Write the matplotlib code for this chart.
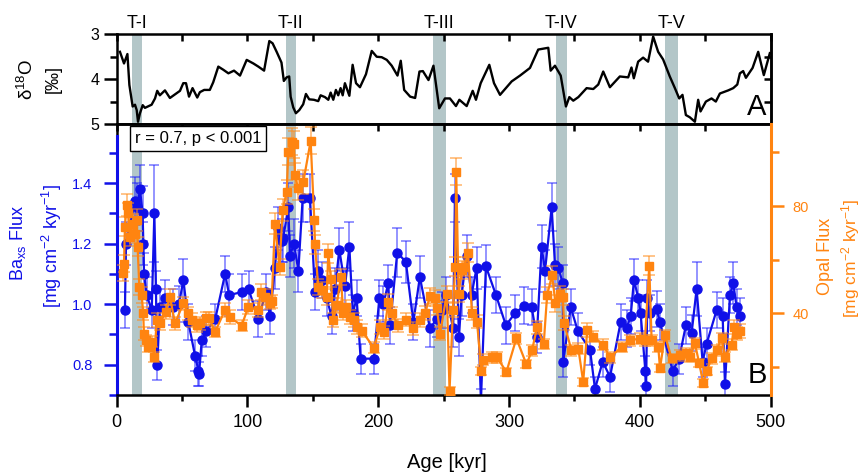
import matplotlib
matplotlib.use("Agg")
import matplotlib.pyplot as plt
from matplotlib.ticker import MultipleLocator, FixedLocator, NullFormatter

plt.rcParams["font.family"] = ["Liberation Sans", "DejaVu Sans"]
plt.rcParams["mathtext.fontset"] = "custom"
plt.rcParams["mathtext.rm"] = "Liberation Sans"
plt.rcParams["mathtext.it"] = "Liberation Sans:italic"

BLUE = "#1010e8"
ORANGE = "#ff8410"
BAND = "#b3c6c8"

# terminations
band_start = [12, 129.5, 242, 336, 419]
band_end = [19, 137, 251.5, 344, 429]
band_labels = ["T-I", "T-II", "T-III", "T-IV", "T-V"]

# benthic d18O stack
d18o_age = [2.5, 5.6, 8.2, 9.7, 12.2, 14.0, 15.3, 16.3, 17.8, 19.9,
            21.6, 26.7, 29.3, 31.0, 33.0, 36.9, 40.7, 44.6, 48.4, 50.9,
            53.0, 55.3, 58.0, 61.6, 63.6, 66.9, 71.2, 73.8, 77.7, 81.5,
            85.4, 89.7, 94.3, 99.4, 104.5, 108.3, 112.7, 116.7, 119.2, 122.3,
            126.0, 127.8, 129.9, 131.9, 133.0, 135.0, 137.0, 139.6, 142.6, 144.7,
            147.2, 150.8, 154.1, 155.9, 159.2, 161.8, 163.6, 165.6, 167.6, 169.4,
            171.2, 172.8, 174.5, 177.9, 180.4, 183.0, 186.0, 190.6, 195.0, 198.8,
            202.6, 206.5, 210.3, 214.7, 217.2, 219.8, 224.4, 228.2, 231.5, 234.1,
            238.4, 242.2, 246.6, 251.0, 254.8, 259.4, 262.0, 267.6, 272.2, 274.7,
            278.3, 284.9, 288.5, 293.1, 302.0, 308.4, 316.0, 322.3, 326.1, 330.0,
            331.8, 335.1, 339.5, 343.5, 346.1, 349.1, 353.0, 359.3, 364.4, 368.2,
            372.0, 377.1, 384.7, 391.1, 393.6, 395.4, 398.7, 402.5, 406.3, 407.6,
            410.2, 414.0, 417.8, 422.9, 426.8, 430.1, 432.6, 435.2, 438.2, 442.1,
            444.6, 446.4, 450.5, 454.8, 458.1, 461.2, 467.6, 471.4, 474.5, 476.5,
            479.0, 481.1, 486.2, 490.5, 494.8, 499.4]
d18o = [3.39, 3.65, 3.44, 4.13, 4.61, 4.57, 4.69, 4.95, 4.76, 4.58,
        4.64, 4.57, 4.43, 4.26, 4.36, 4.25, 4.42, 4.34, 4.26, 4.09,
        4.09, 4.39, 4.20, 4.41, 4.29, 4.24, 4.24, 4.07, 3.72, 3.79,
        3.87, 3.81, 3.92, 3.57, 3.65, 3.72, 3.81, 3.15, 3.20, 3.39,
        3.63, 4.04, 3.96, 3.94, 4.39, 4.63, 4.76, 4.69, 4.56, 4.33,
        4.45, 4.46, 4.49, 4.36, 4.40, 4.46, 4.30, 4.46, 4.24, 4.36,
        4.20, 4.36, 4.09, 4.37, 3.68, 4.09, 4.18, 3.89, 3.37, 3.50,
        3.51, 3.57, 3.70, 3.92, 3.59, 4.24, 4.39, 4.42, 3.83, 3.82,
        4.02, 3.70, 4.65, 4.43, 4.43, 4.60, 4.46, 4.60, 4.26, 4.46,
        4.09, 3.68, 4.09, 4.35, 4.05, 3.92, 3.75, 3.34, 3.32, 3.30,
        3.81, 3.70, 3.92, 4.61, 4.40, 4.48, 4.40, 4.20, 4.22, 4.12,
        3.83, 4.18, 3.94, 3.96, 3.74, 3.98, 3.61, 3.52, 3.61, 3.42,
        3.05, 3.39, 3.56, 3.94, 4.20, 4.43, 4.35, 4.80, 4.85, 4.95,
        4.46, 4.72, 4.50, 4.43, 4.50, 4.32, 4.25, 4.20, 4.12, 3.87,
        3.82, 3.97, 3.75, 3.39, 3.91, 3.42]

# Ba_xs flux
ba_age = [6.3, 7.1, 14.0, 15.8, 17.8, 19.8, 20.4, 20.9, 22.9, 26.8,
          28.8, 30.0, 31.0, 33.0, 36.9, 43.3, 47.6, 51.0, 54.8, 59.9,
          62.5, 63.0, 65.0, 68.4, 75.3, 82.9, 86.0, 95.7, 100.8, 108.4,
          114.0, 117.2, 121.0, 123.6, 126.1, 127.4, 131.2, 132.5, 135.6, 138.9,
          142.2, 147.8, 151.6, 154.1, 156.7, 160.5, 164.3, 166.9, 170.2, 174.6,
          177.9, 180.5, 183.5, 186.5, 196.7, 200.8, 203.9, 207.7, 209.0, 214.5,
          221.1, 226.8, 231.8, 239.5, 244.6, 248.4, 251.7, 257.3, 258.6, 261.7,
          263.7, 267.5, 271.3, 275.2, 278.5, 282.3, 290.0, 297.6, 304.5, 311.7,
          317.3, 321.2, 324.9, 327.5, 332.6, 335.1, 337.7, 341.0, 341.5, 347.1,
          352.7, 361.9, 365.7, 371.6, 377.2, 385.3, 389.9, 393.0, 395.5, 398.8,
          400.6, 404.2, 404.8, 405.7, 407.7, 412.8, 415.4, 425.1, 430.0, 435.2,
          439.6, 443.4, 448.0, 451.1, 458.7, 463.3, 465.1, 468.9, 471.4, 474.0,
          476.5]
ba_flux = [0.98, 1.20, 1.34, 1.32, 1.38, 1.30, 1.20, 1.10, 1.03, 0.98,
           1.30, 1.05, 0.80, 0.99, 1.02, 0.99, 1.00, 1.08, 0.94, 0.83,
           0.78, 0.77, 0.88, 0.91, 0.95, 1.10, 1.03, 1.04, 1.05, 0.95,
           1.04, 0.96, 1.12, 1.25, 1.21, 1.22, 1.32, 1.16, 1.20, 1.11,
           1.35, 1.35, 1.04, 1.11, 1.08, 1.02, 0.96, 1.05, 1.18, 1.06,
           1.19, 0.97, 1.02, 0.82, 0.82, 1.02, 1.00, 1.07, 0.93, 1.17,
           1.14, 0.94, 1.09, 0.92, 0.95, 0.98, 1.03, 0.92, 1.35, 0.89,
           1.03, 1.16, 1.03, 1.12, 0.68, 1.125, 1.03, 0.93, 0.97, 0.995,
           0.99, 0.89, 1.19, 1.11, 1.32, 1.13, 1.12, 1.07, 0.81, 0.99,
           0.91, 0.85, 0.72, 0.81, 0.76, 0.94, 0.92, 0.96, 1.08, 1.02,
           0.97, 0.78, 0.73, 1.02, 0.97, 0.985, 0.94, 0.78, 0.82, 0.93,
           0.905, 1.05, 0.81, 0.87, 0.98, 0.96, 0.735, 1.03, 1.07, 0.99,
           0.96]
ba_err = [0.06, 0.07, 0.08, 0.08, 0.08, 0.09, 0.07, 0.07, 0.06, 0.06,
          0.16, 0.06, 0.05, 0.06, 0.06, 0.06, 0.06, 0.07, 0.06, 0.05,
          0.05, 0.04, 0.05, 0.05, 0.05, 0.06, 0.07, 0.06, 0.06, 0.06,
          0.06, 0.06, 0.07, 0.07, 0.07, 0.08, 0.08, 0.07, 0.08, 0.07,
          0.08, 0.08, 0.06, 0.07, 0.06, 0.06, 0.06, 0.07, 0.07, 0.06,
          0.08, 0.06, 0.06, 0.05, 0.05, 0.06, 0.06, 0.06, 0.06, 0.08,
          0.07, 0.06, 0.07, 0.06, 0.06, 0.06, 0.06, 0.06, 0.08, 0.06,
          0.07, 0.07, 0.06, 0.07, 0.04, 0.07, 0.06, 0.06, 0.06, 0.06,
          0.06, 0.05, 0.07, 0.07, 0.08, 0.07, 0.07, 0.06, 0.05, 0.06,
          0.06, 0.05, 0.04, 0.05, 0.05, 0.06, 0.06, 0.06, 0.07, 0.06,
          0.06, 0.05, 0.04, 0.06, 0.06, 0.06, 0.06, 0.05, 0.05, 0.06,
          0.06, 0.09, 0.05, 0.05, 0.06, 0.06, 0.04, 0.06, 0.07, 0.06,
          0.06]

# opal flux
op_age = [5.1, 5.6, 6.3, 7.6, 8.9, 10.2, 12.2, 14.0, 15.3, 16.0,
          17.3, 19.1, 20.3, 20.8, 22.4, 24.2, 26.7, 28.8, 30.6, 33.1,
          37.4, 40.7, 44.6, 50.9, 54.8, 57.3, 61.2, 63.7, 68.3, 70.8,
          75.2, 82.8, 86.6, 95.5, 100.6, 108.3, 110.0, 113.4, 117.2, 118.5,
          121.0, 124.5, 126.9, 130.0, 131.2, 133.8, 135.6, 136.3, 138.6, 142.7,
          148.3, 151.1, 151.6, 154.1, 156.7, 160.5, 161.8, 163.8, 165.6, 168.2,
          171.4, 173.2, 175.7, 178.3, 181.3, 183.4, 187.2, 196.7, 201.3, 204.4,
          207.7, 210.2, 215.4, 221.2, 226.3, 231.9, 235.8, 239.6, 243.5, 244.8,
          247.3, 252.4, 254.5, 257.1, 258.8, 259.6, 261.4, 264.0, 265.8, 268.6,
          271.7, 275.5, 278.8, 280.1, 287.0, 290.8, 298.0, 305.6, 313.3, 317.6,
          321.4, 326.5, 329.1, 332.9, 335.5, 339.3, 341.1, 342.0, 347.7, 353.0,
          356.7, 359.8, 364.4, 372.0, 377.2, 386.1, 392.4, 400.1, 403.9, 407.2,
          409.0, 414.1, 415.4, 419.2, 424.3, 430.7, 435.2, 438.3, 442.1, 445.4,
          448.5, 451.1, 454.9, 458.7, 462.5, 465.1, 470.2, 471.9, 474.0, 476.5]
op_flux = [54.9, 58.6, 72.3, 80.4, 77.3, 68.6, 73.5, 69.6, 74.8, 64.8,
           49.9, 46.8, 40.0, 32.5, 30.0, 27.5, 29.4, 23.8, 37.5, 36.3,
           40.6, 46.2, 36.3, 43.7, 40.0, 37.5, 35.6, 36.3, 38.2, 38.2,
           33.1, 41.2, 38.7, 35.4, 42.4, 41.2, 48.0, 46.2, 44.0, 44.5,
           73.5, 57.4, 78.5, 85.3, 100.2, 104.0, 103.1, 91.6, 86.6, 89.0,
           104.3, 74.8, 65.8, 49.9, 48.6, 46.2, 62.4, 52.7, 37.5, 43.1,
           53.6, 40.0, 42.4, 38.7, 37.5, 35.0, 33.6, 27.2, 34.9, 32.9,
           44.3, 40.0, 35.6, 37.7, 34.4, 37.5, 40.2, 46.4, 45.6, 41.9,
           32.5, 47.4, 11.2, 41.2, 57.4, 92.8, 47.4, 56.2, 57.4, 62.6,
           40.0, 36.9, 18.6, 22.8, 23.6, 23.6, 18.2, 30.7, 21.0, 26.3,
           34.8, 28.6, 46.8, 54.3, 43.7, 47.4, 46.2, 36.5, 26.3, 26.8,
           14.5, 33.8, 31.3, 28.4, 23.6, 27.5, 30.0, 30.6, 30.0, 57.8,
           30.0, 27.5, 19.5, 31.9, 23.2, 24.4, 25.1, 23.8, 28.8, 21.4,
           13.9, 18.5, 23.3, 26.3, 30.7, 23.8, 28.4, 35.0, 32.5, 33.5]
op_err = [3.0, 3.0, 3.5, 4.0, 4.0, 3.5, 3.5, 3.5, 4.0, 3.5,
          3.0, 3.0, 2.5, 2.5, 2.0, 2.0, 2.0, 2.0, 2.5, 2.5,
          2.5, 3.0, 2.5, 2.5, 2.5, 2.5, 2.5, 2.5, 2.5, 2.5,
          2.0, 2.5, 2.5, 2.0, 2.5, 2.5, 3.0, 3.0, 2.5, 2.5,
          4.0, 3.0, 4.0, 4.5, 5.0, 5.0, 5.0, 4.5, 4.5, 4.5,
          5.0, 4.0, 3.5, 3.0, 3.0, 3.0, 3.5, 3.0, 2.5, 2.5,
          3.0, 2.5, 2.5, 2.5, 2.5, 2.5, 2.5, 2.0, 2.5, 2.5,
          3.0, 2.5, 2.5, 2.5, 2.5, 2.5, 2.5, 3.0, 3.0, 2.5,
          2.5, 3.0, 1.5, 2.5, 3.5, 5.0, 3.0, 3.5, 3.5, 3.5,
          2.5, 2.5, 1.5, 2.0, 2.0, 2.0, 1.5, 2.0, 1.5, 2.0,
          2.5, 2.0, 3.0, 3.5, 3.0, 3.0, 3.0, 2.5, 2.0, 2.0,
          1.5, 2.5, 2.0, 2.0, 2.0, 2.0, 2.0, 2.0, 2.0, 3.5,
          2.0, 2.0, 1.5, 2.0, 1.5, 2.0, 2.0, 2.0, 2.0, 1.5,
          1.5, 1.5, 2.0, 2.0, 2.0, 2.0, 2.0, 2.5, 2.5, 2.5]

fig = plt.figure(figsize=(8.65, 4.74), dpi=100)
ax_a = fig.add_axes([0.1349, 0.7384, 0.756, 0.1892])
ax_b = fig.add_axes([0.1349, 0.1667, 0.756, 0.5717])
ax_o = ax_b.twinx()

SPW = 1.8

# ---------- panel A ----------
for s, e in zip(band_start, band_end):
    ax_a.axvspan(s, e, color=BAND, lw=0, zorder=0)
ax_a.plot(d18o_age, d18o, color="black", lw=1.7, zorder=2)
ax_a.set_xlim(0, 500)
ax_a.set_ylim(5, 3)
ax_a.set_yticks([3, 4, 5])
ax_a.yaxis.set_minor_locator(FixedLocator([3.5, 4.5]))
ax_a.tick_params(axis="y", which="major", direction="out", length=9.5, width=SPW,
                 labelsize=11.5, pad=3)
ax_a.tick_params(axis="y", which="minor", direction="out", length=5, width=SPW)
ax_a.xaxis.set_ticks_position("top")
ax_a.xaxis.set_major_locator(MultipleLocator(50))
ax_a.tick_params(axis="x", which="both", direction="in", length=5, width=SPW,
                 labeltop=False, labelbottom=False)
for sp in ax_a.spines.values():
    sp.set_linewidth(SPW)
sec_a = ax_a.secondary_yaxis("right")
sec_a.set_yticks([3.5, 4, 4.5])
sec_a.tick_params(direction="in", length=5, width=SPW, labelright=False)
sec_a.spines["right"].set_linewidth(SPW)

for s, e, lab in zip(band_start, band_end, band_labels):
    ax_a.text((s + e) / 2, 1.07, lab, transform=ax_a.get_xaxis_transform(),
              ha="center", va="baseline", fontsize=13)
ax_a.text(0.994, 0.10, "A", transform=ax_a.transAxes, ha="right", va="baseline",
          fontsize=21)

fig.text(27 / 865, 1 - 79 / 474, r"δ$^{\mathrm{18}}$O", rotation=90,
         ha="center", va="center", fontsize=13.5)
fig.text(53 / 865, 1 - 79 / 474, "[‰]", rotation=90, ha="center", va="center",
         fontsize=13)

# ---------- panel B ----------
for s, e in zip(band_start, band_end):
    ax_b.axvspan(s, e, color=BAND, lw=0, zorder=0)

ax_b.errorbar(ba_age, ba_flux, yerr=ba_err, fmt="o-", color=BLUE, ms=6.5, lw=1.6,
              ecolor=(0.1, 0.1, 1.0, 0.55), elinewidth=1.2, capsize=3.6,
              capthick=1.2, zorder=2)
ax_o.errorbar(op_age, op_flux, yerr=op_err, fmt="s-", color=ORANGE, ms=5.3, lw=1.6,
              ecolor=(1.0, 0.55, 0.1, 0.6), elinewidth=1.2, capsize=4.3,
              capthick=1.2, zorder=2)

ax_b.set_xlim(0, 500)
ax_b.set_ylim(0.7, 1.595)
ax_o.set_ylim(9.6, 110.6)

ax_b.xaxis.set_major_locator(MultipleLocator(100))
ax_b.xaxis.set_minor_locator(MultipleLocator(50))
ax_b.tick_params(axis="x", which="major", direction="out", length=8.5, width=SPW,
                 labelsize=13, pad=5)
ax_b.tick_params(axis="x", which="minor", direction="out", length=4, width=SPW)
sec_b = ax_b.secondary_xaxis("top")
sec_b.xaxis.set_major_locator(MultipleLocator(50))
sec_b.tick_params(direction="in", length=5, width=SPW, labeltop=False)
sec_b.spines["top"].set_linewidth(SPW)

ax_b.set_yticks([0.8, 1.0, 1.2, 1.4])
ax_b.set_yticklabels(["0.8", "1.0", "1.2", "1.4"])
ax_b.yaxis.set_minor_locator(FixedLocator([0.7, 0.9, 1.1, 1.3, 1.5]))
ax_b.tick_params(axis="y", which="major", direction="out", length=9.5, width=SPW,
                 color=BLUE, labelcolor=BLUE, labelsize=10.5, pad=8)
ax_b.tick_params(axis="y", which="minor", direction="out", length=5.5, width=SPW,
                 color=BLUE)

ax_o.set_yticks([40, 80])
ax_o.yaxis.set_minor_locator(FixedLocator([20, 60, 100]))
ax_o.yaxis.set_minor_formatter(NullFormatter())
ax_o.tick_params(axis="y", which="major", direction="out", length=9.5, width=SPW,
                 color=ORANGE, labelcolor=ORANGE, labelsize=10.5, pad=6)
ax_o.tick_params(axis="y", which="minor", direction="out", length=5.5, width=SPW,
                 color=ORANGE)

for sp in ax_b.spines.values():
    sp.set_linewidth(SPW)
ax_b.spines["left"].set_color(BLUE)
ax_b.spines["left"].set_linewidth(2.2)
ax_b.spines["left"].set_bounds(0.7, 1.555)
ax_b.plot([0, 0], [0.955, 1.0], transform=ax_b.transAxes, color="black",
          lw=SPW, clip_on=False, solid_capstyle="butt")
ax_b.spines["right"].set_visible(False)
ax_o.spines["left"].set_visible(False)
ax_o.spines["top"].set_visible(False)
ax_o.spines["bottom"].set_visible(False)
ax_o.spines["right"].set_color(ORANGE)
ax_o.spines["right"].set_linewidth(2.2)

# correlation box
ax_b.text(0.124, 0.945, "r = 0.7, p < 0.001", transform=ax_b.transAxes,
          ha="center", va="center", fontsize=12, zorder=5,
          bbox=dict(boxstyle="square,pad=0.3", fc="white", ec="black", lw=1.0))
ax_b.text(0.994, 0.043, "B", transform=ax_b.transAxes, ha="right", va="baseline",
          fontsize=21, zorder=6)

fig.text(18.5 / 865, 1 - 243 / 474, r"Ba$_{\mathrm{xs}}$ Flux", rotation=90,
         ha="center", va="center", fontsize=13, color=BLUE)
fig.text(52 / 865, 1 - 246 / 474, r"[mg cm$^{\mathrm{-2}}$ kyr$^{\mathrm{-1}}$]",
         rotation=90, ha="center", va="center", fontsize=13, color=BLUE)
fig.text(825 / 865, 1 - 256 / 474, "Opal Flux", rotation=90, ha="center",
         va="center", fontsize=13, color=ORANGE)
fig.text(851 / 865, 1 - 258 / 474, r"[mg cm$^{\mathrm{-2}}$ kyr$^{\mathrm{-1}}$]",
         rotation=90, ha="center", va="center", fontsize=12.5, color=ORANGE)

fig.text(447 / 865, 1 - 462 / 474, "Age [kyr]", ha="center", va="center",
         fontsize=14.5)

fig.savefig("out.png", dpi=100)
